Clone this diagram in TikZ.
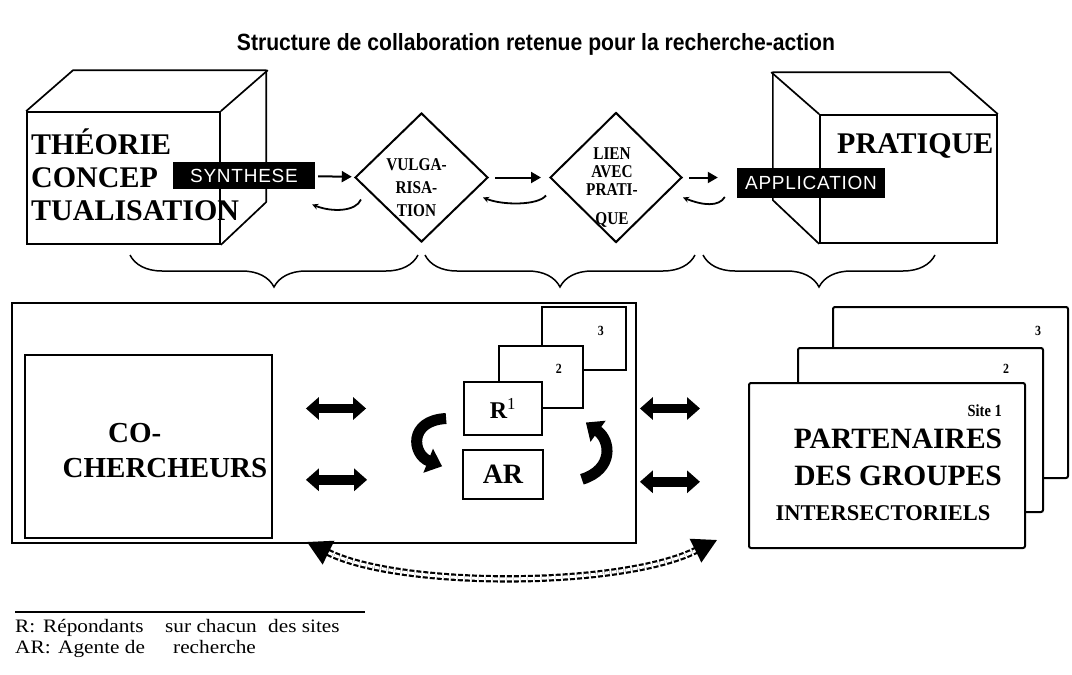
\documentclass[tikz,border=0pt]{standalone}
\usepackage{fontspec}
\setmainfont{Liberation Serif}
\newfontfamily\titrefont{Liberation Sans}[FakeStretch=0.9]
\newfontfamily\tagfont{Liberation Sans}[LetterSpace=4]
\newfontfamily\etroitfont{Liberation Serif}[FakeStretch=0.85]
\newfontfamily\notefont{Liberation Serif}[FakeStretch=1.12]
\usetikzlibrary{shapes.geometric, arrows.meta, positioning, calc, decorations.pathreplacing}
\tikzstyle{face} = [rectangle, draw=black, line width=1.7pt, fill=white, inner sep=0pt]
\tikzstyle{edge} = [line width=1.7pt, line join=round]
\tikzstyle{tag} = [rectangle, fill=black, text=white, inner sep=0pt, font=\tagfont\fontsize{19}{22}\selectfont]
\tikzstyle{decision} = [diamond, aspect=1, draw=black, line width=2pt, fill=white, inner sep=0pt]
\tikzstyle{dtexte} = [align=center, inner sep=0pt, font=\etroitfont\bfseries\fontsize{18}{23}\selectfont]
\tikzstyle{dtexteserre} = [align=center, inner sep=0pt, font=\etroitfont\bfseries\fontsize{18}{18}\selectfont]
\tikzstyle{grand} = [inner sep=0pt, font=\bfseries\fontsize{30}{33}\selectfont]
\tikzstyle{moyen} = [inner sep=0pt, font=\bfseries\fontsize{29.5}{32}\selectfont]
\tikzstyle{chiffre} = [inner sep=0pt, font=\etroitfont\bfseries\fontsize{14}{16}\selectfont]
\tikzstyle{arrow} = [line width=2pt, -{Triangle[length=10pt,width=11pt]}]
\tikzstyle{retour} = [line width=1.8pt, -{Stealth[length=6pt,width=6pt]}]
\tikzstyle{accolade} = [decorate, decoration={brace, mirror, amplitude=32pt, aspect=0.5}, line width=1.5pt]
\tikzstyle{boite} = [rectangle, draw=black, line width=1.8pt, fill=white, inner sep=0pt]
\tikzstyle{carte} = [rectangle, rounded corners=2pt, draw=black, line width=2pt, fill=white, inner sep=0pt]
\tikzstyle{duo} = [line width=9.5pt, {Triangle[length=13pt,width=22pt]}-{Triangle[length=13pt,width=22pt]}]
\tikzstyle{tourne} = [line width=11pt, -{Triangle[length=15pt,width=25pt]}]
\tikzstyle{pointille} = [double, double distance=3pt, line width=2.2pt, dash pattern=on 5pt off 2pt, {Triangle[length=24pt,width=26pt]}-{Triangle[length=24pt,width=26pt]}]
\tikzstyle{note} = [inner sep=0pt, font=\notefont\fontsize{19}{21}\selectfont]

\begin{document}
\begin{tikzpicture}[x=1pt, y=-1pt]
\useasboundingbox (0,0) rectangle (1072,675);

\node (titre) at (536,44) {\titrefont\bfseries\fontsize{23.5}{26}\selectfont Structure de collaboration retenue pour la recherche-action};

% theorie cube
\node (theorie) [face, minimum width=193pt, minimum height=132pt] at (123.5,178) {};
\draw [edge] (theorie.north west) -- ++(47,-41) -- ++(193,0) -- ++(0,132) -- (theorie.south east);
\draw [edge] (theorie.north east) -- ++(47,-41);
\node (theotxt) [grand, anchor=north west, align=left] at (31,129) {THÉORIE\\CONCEP\\TUALISATION};
\node (synth) [tag, minimum width=142pt, minimum height=27pt] at (244,175.5) {SYNTHESE};

% diamonds
\node (vulga) [decision, minimum width=133pt, minimum height=129pt] at (421.5,177.5) {};
\node (vulgatxt) [dtexte, xshift=-5pt, yshift=-10pt] at (vulga) {VULGA-\\RISA-\\TION};
\node (lien) [decision, minimum width=132pt, minimum height=130pt, right=60pt of vulga] {};
\node (lientxt) [dtexteserre, xshift=-4pt, yshift=-10pt] at (lien) {LIEN\\AVEC\\PRATI-\\[11pt]QUE};

% pratique cube
\node (pratique) [face, minimum width=177pt, minimum height=128pt] at (908.5,179) {};
\draw [edge] (pratique.north east) -- ++(-48,-42) -- ++(-177,0) -- ++(0,128) -- (pratique.south west);
\draw [edge] (pratique.north west) -- ++(-48,-42);
\node (pratxt) [grand, anchor=base west] at (837,153) {PRATIQUE};
\node (appl) [tag, minimum width=148pt, minimum height=30pt] at (811,183) {APPLICATION};

\draw [arrow, shorten <=3pt, shorten >=3pt] (synth) -- (vulga);
\draw [arrow, shorten <=6pt, shorten >=8pt] (vulga) -- (lien);
\draw [arrow, shorten <=6pt, shorten >=19pt] (lien.east) -- (lien.east -| appl.west);
\draw [retour] ($(vulga.west)+(7,22)$) .. controls +(-5,12) and +(20,8) .. ($(synth.east)+(-3,29)$);
\draw [retour] ($(lien.west)+(-3,18)$) .. controls +(-8,10) and +(20,8) .. ($(vulga.east)+(-6,20)$);
\draw [retour] ($(appl.west)+(-12,14)$) .. controls +(-6,10) and +(20,8) .. ($(lien.east)+(0,20)$);

% braces
\draw [accolade] (130,255) -- (418,255);
\draw [accolade] (425,255) -- (695,255);
\draw [accolade] (703,255) -- (935,255);

% co-chercheurs
\node (recherche) [boite, minimum width=624pt, minimum height=240pt] at (324,423) {};
\node (coch) [boite, minimum width=247pt, minimum height=183pt] at (148.5,446.5) {};
\node (cotxt) [grand, anchor=base west, font=\bfseries\fontsize{29}{33}\selectfont] at (108,442) {CO-};
\node (chtxt) [grand, anchor=base, font=\bfseries\fontsize{29}{33}\selectfont] at (165,477) {CHERCHEURS};

\node (r3) [boite, minimum width=84pt, minimum height=63pt] at (584,338.5) {};
\node (r2) [boite, minimum width=84pt, minimum height=62pt] at (541,377) {};
\node (rone) [boite, minimum width=78pt, minimum height=53pt, font=\bfseries\fontsize{24}{28}\selectfont] at (503,408.5) {R\textsuperscript{\mdseries 1}};
\node (ar) [boite, minimum width=80pt, minimum height=49pt, below=13pt of rone, font=\bfseries\fontsize{28}{30}\selectfont] {AR};
\node [chiffre] at ($(r3.north east)+(-26,25)$) {3};
\node [chiffre] at ($(r2.north east)+(-25,24)$) {2};

% partenaires
\node (site3) [carte, minimum width=235pt, minimum height=171pt] at (950.5,392.5) {};
\node (site2) [carte, minimum width=245pt, minimum height=164pt] at (920.5,430) {};
\node (site1) [carte, minimum width=276pt, minimum height=165pt] at (887,465.5) {};
\node [chiffre] at ($(site3.north east)+(-31,25)$) {3};
\node [chiffre] at ($(site2.north east)+(-38,22)$) {2};
\node (sitetxt) [chiffre, anchor=east, font=\etroitfont\bfseries\fontsize{17}{20}\selectfont] at ($(site1.north east)+(-24,29)$) {Site 1};
\node (parttxt) [moyen, anchor=base] at (898,448) {PARTENAIRES};
\node (grptxt) [moyen, anchor=base] at (898,485) {DES GROUPES};
\node (intertxt) [moyen, anchor=base, font=\bfseries\fontsize{22.5}{24}\selectfont] at (883,520) {INTERSECTORIELS};

% echanges
\draw [duo, shorten <=33pt, shorten >=97pt] (coch.east |- rone) -- (rone.west);
\draw [duo, shorten <=33pt, shorten >=95pt] ([yshift=-5.5pt]coch.east |- ar) -- ([yshift=-5.5pt]ar.west);
\draw [duo, shorten <=3pt, shorten >=48pt] (recherche.east |- rone) -- (site1.west |- rone);
\draw [duo, shorten <=3pt, shorten >=48pt] ([yshift=-7.5pt]recherche.east |- ar) -- ([yshift=-7.5pt]site1.west |- ar);
\draw [tourne] ($(rone.west)+(-17,10)$) .. controls +(-38,2) and +(-30,-12) .. ($(ar.west)+(-20,-8)$);
\draw [tourne] ($(ar.east)+(38,5)$) .. controls +(32,-10) and +(25,18) .. ($(rone.east)+(43,14)$);

\coordinate (gauche) at (307,542);
\coordinate (droite) at (717,540);
\draw [pointille] (gauche) .. controls (400,588) and (620,588) .. (droite);

% legende
\draw [line width=1.6pt] (15,612) -- (365,612);
\node (leg1) [note, anchor=base west] at (15,632) {\makebox[28pt][l]{R:}\makebox[122pt][l]{Répondants}\makebox[103pt][l]{sur chacun}des sites};
\node (leg2) [note, anchor=base west] at (15,653) {\makebox[43pt][l]{AR:}\makebox[115pt][l]{Agente de}recherche};
\end{tikzpicture}
\end{document}
